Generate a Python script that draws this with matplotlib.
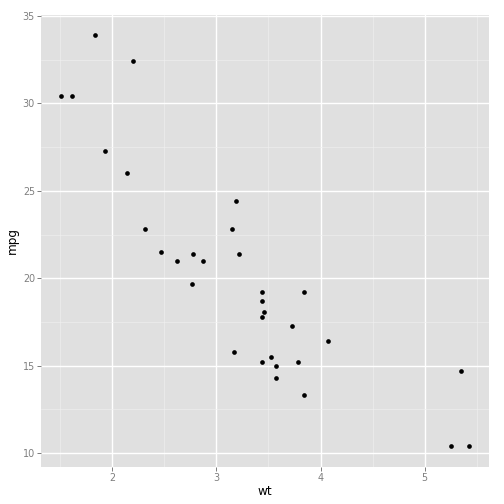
import numpy as np
import matplotlib
matplotlib.use("Agg")
import matplotlib.pyplot as plt

# mtcars: weight vs miles per gallon
wt = [2.620, 2.875, 2.320, 3.215, 3.440, 3.460, 3.570, 3.190, 3.150, 3.440,
      3.440, 4.070, 3.730, 3.780, 5.250, 5.424, 5.345, 2.200, 1.615, 1.835,
      2.465, 3.520, 3.435, 3.840, 3.845, 1.935, 2.140, 1.513, 3.170, 2.770,
      3.570, 2.780]
mpg = [21.0, 21.0, 22.8, 21.4, 18.7, 18.1, 14.3, 24.4, 22.8, 19.2,
       17.8, 16.4, 17.3, 15.2, 10.4, 10.4, 14.7, 32.4, 30.4, 33.9,
       21.5, 15.5, 15.2, 13.3, 19.2, 27.3, 26.0, 30.4, 15.8, 19.7,
       15.0, 21.4]
x_ticks = [2, 3, 4, 5]
y_ticks = [10, 15, 20, 25, 30, 35]

fig = plt.figure(figsize=(7, 7), dpi=72)
ax = fig.add_axes([41 / 504, 37.3 / 504, 448.3 / 504, 452 / 504])
ax.set_facecolor("#E0E0E0")

xr = max(wt) - min(wt)
yr = max(mpg) - min(mpg)
ax.set_xlim(min(wt) - 0.05 * xr, max(wt) + 0.05 * xr)
ax.set_ylim(min(mpg) - 0.05 * yr, max(mpg) + 0.05 * yr)

ax.set_xticks(x_ticks)
ax.set_yticks(y_ticks)
ax.set_xticks([1.5, 2.5, 3.5, 4.5, 5.5], minor=True)
ax.set_yticks([12.5, 17.5, 22.5, 27.5, 32.5], minor=True)

ax.grid(which="major", color="white", linewidth=1.4)
ax.grid(which="minor", color="#F0F0F0", linewidth=0.6)
ax.set_axisbelow(True)

ax.scatter(wt, mpg, s=22, color="black", zorder=3, linewidths=0)

for s in ax.spines.values():
    s.set_visible(False)
ax.tick_params(which="major", length=4, width=1, color="#7F7F7F",
               labelcolor="#7F7F7F", labelsize=9.6, pad=2)
ax.tick_params(which="minor", length=0)

ax.set_xlabel("wt", fontsize=12, labelpad=2)
ax.set_ylabel("mpg", fontsize=12, labelpad=4)

plt.savefig("out.png", dpi=72)
